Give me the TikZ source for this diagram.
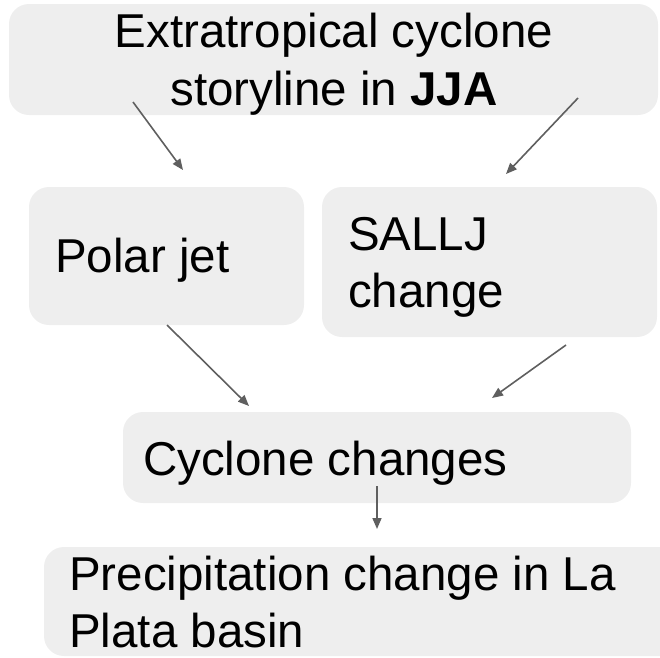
\documentclass[tikz,border=0pt]{standalone}
\usepackage{fontspec}
\setmainfont{Liberation Sans}
\usetikzlibrary{arrows.meta}
\definecolor{boxgray}{HTML}{EEEEEE}
\definecolor{arrowgray}{HTML}{5F5F5F}
\tikzset{
  panel/.style={fill=boxgray, draw=none, rounded corners=20pt},
  txt/.style={anchor=base west, inner sep=0pt, font=\fontsize{47.5}{57.5}\selectfont},
  ctxt/.style={anchor=base, inner sep=0pt, font=\fontsize{47.5}{57.5}\selectfont},
  link/.style={draw=arrowgray, line width=1.6pt, -{Triangle[length=11pt,width=9pt]}}
}
\begin{document}
\begin{tikzpicture}[x=1pt,y=-1pt]
\useasboundingbox (0,0) rectangle (660,657);
% boxes
\path[panel] (9,4) rectangle (658,115);
\path[panel] (29,187) rectangle (304,325);
\path[panel] (322,187) rectangle (657,337);
\path[panel] (123,412) rectangle (631,503);
\path[panel] (44,547) rectangle (690,656);
% texts
\node[ctxt] (top1) at (334,47) {Extratropical cyclone};
\node[ctxt] (top2) at (334,105) {storyline in \textbf{JJA}};
\node[txt] (polar) at (55,272) {Polar jet};
\node[txt] (sallj1) at (348,250) {SALLJ};
\node[txt] (sallj2) at (348,307) {change};
\node[txt] (cyc) at (143,475) {Cyclone changes};
\node[txt] (prec1) at (69,590) {Precipitation change in La};
\node[txt] (prec2) at (69,647) {Plata basin};
% arrow end points
\coordinate (a1s) at (133,102);
\coordinate (a1e) at (183,170);
\coordinate (a2s) at (578,98);
\coordinate (a2e) at (506,174);
\coordinate (a3s) at (167,325);
\coordinate (a3e) at (249,406);
\coordinate (a4s) at (566,345);
\coordinate (a4e) at (492,398);
\coordinate (a5s) at (377,486);
\coordinate (a5e) at (377,529);
\draw[link] (a1s) -- (a1e);
\draw[link] (a2s) -- (a2e);
\draw[link] (a3s) -- (a3e);
\draw[link] (a4s) -- (a4e);
\draw[link] (a5s) -- (a5e);
\end{tikzpicture}
\end{document}
